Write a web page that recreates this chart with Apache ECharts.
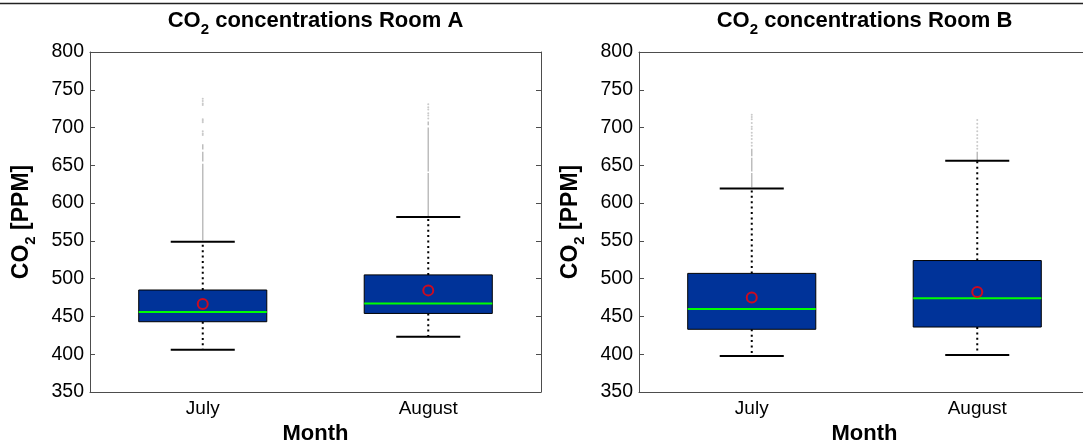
<!DOCTYPE html>
<html>
<head>
<meta charset="utf-8">
<title>CO2 concentrations</title>
<script src="https://cdn.jsdelivr.net/npm/echarts@6/dist/echarts.min.js"></script>
<style>
  html, body { margin: 0; padding: 0; background: #fff; }
  #chart { width: 1083px; height: 445px; }
</style>
</head>
<body>
<div id="chart"></div>
<script>
// Categories
const months = ['July', 'August'];

// Y tick range (ppm)
const yMin = 350;
const yMax = 800;
const yStep = 50;

// Room A box statistics per month
const roomALow    = [406, 423];
const roomAQ1     = [443, 454];
const roomAMedian = [456, 467];
const roomAQ3     = [485, 505];
const roomAHigh   = [549, 581.5];
const roomAMean   = [466.5, 484.5];

// Room B box statistics per month
const roomBLow    = [397.5, 399];
const roomBQ1     = [433, 436];
const roomBMedian = [460, 474];
const roomBQ3     = [507, 524];
const roomBHigh   = [619.5, 656];
const roomBMean   = [475, 482.5];

// Outliers: dense stretches (from, to) and isolated readings, per month
const roomAJulyOutlierRuns   = [[551, 652], [655, 668], [671, 678]];
const roomAJulyOutliers      = [690, 692, 695, 707, 709, 711, 730, 732, 735, 738];
const roomAAugustOutlierRuns = [[583, 640], [642, 700], [703, 708]];
const roomAAugustOutliers    = [712, 716, 719, 724, 727, 731];
const roomBJulyOutlierRuns   = [[621, 640], [642, 660], [662, 672]];
const roomBJulyOutliers      = [676, 680, 685, 689, 693, 698, 701, 706, 711, 714, 717];
const roomBAugustOutlierRuns = [[657, 668]];
const roomBAugustOutliers    = [672, 676, 681, 686, 690, 695, 700, 705, 710];

const FONT = "'Liberation Sans', Arial, Helvetica, sans-serif";
const AXIS_COLOR = '#4d4d4d';
const BOX_FILL = '#003399';
const MEDIAN_COLOR = '#00ff00';
const MEAN_COLOR = '#ff0000';
const OUTLIER_COLOR = '#bdbdbd';

function boxRows(low, q1, med, q3, high) {
  return months.map((m, i) => [i, low[i], q1[i], med[i], q3[i], high[i]]);
}
function runRows(runsPerMonth) {
  const rows = [];
  runsPerMonth.forEach((runs, i) => runs.forEach(r => rows.push([i, r[0], r[1]])));
  return rows;
}
function pointRows(pointsPerMonth) {
  const rows = [];
  pointsPerMonth.forEach((pts, i) => pts.forEach(v => rows.push([i, v])));
  return rows;
}

// Box, median, dashed whiskers and caps
function renderBox(params, api) {
  const idx = api.value(0);
  const x = api.coord([idx, api.value(1)])[0];
  const yLow = api.coord([idx, api.value(1)])[1];
  const yQ1 = api.coord([idx, api.value(2)])[1];
  const yMed = api.coord([idx, api.value(3)])[1];
  const yQ3 = api.coord([idx, api.value(4)])[1];
  const yHigh = api.coord([idx, api.value(5)])[1];
  const band = api.size([1, 0])[0];
  const boxW = band * 0.568;
  const capW = boxW / 2;
  const dash = { stroke: '#000', lineWidth: 2, lineDash: [2, 3.4] };
  const cap = { stroke: '#000', lineWidth: 2 };
  return {
    type: 'group',
    children: [
      { type: 'line', shape: { x1: x, y1: yQ3, x2: x, y2: yHigh }, style: dash },
      { type: 'line', shape: { x1: x, y1: yQ1, x2: x, y2: yLow }, style: dash },
      { type: 'line', shape: { x1: x - capW / 2, y1: yHigh, x2: x + capW / 2, y2: yHigh }, style: cap },
      { type: 'line', shape: { x1: x - capW / 2, y1: yLow, x2: x + capW / 2, y2: yLow }, style: cap },
      { type: 'rect', shape: { x: x - boxW / 2, y: yQ3, width: boxW, height: yQ1 - yQ3 },
        style: { fill: BOX_FILL, stroke: '#000', lineWidth: 1 } },
      { type: 'line', shape: { x1: x - boxW / 2, y1: yMed, x2: x + boxW / 2, y2: yMed },
        style: { stroke: MEDIAN_COLOR, lineWidth: 2 } }
    ]
  };
}

// Dense runs of outliers drawn as a thin grey stroke
function renderRun(params, api) {
  const idx = api.value(0);
  const p1 = api.coord([idx, api.value(1)]);
  const p2 = api.coord([idx, api.value(2)]);
  return { type: 'line', shape: { x1: p1[0], y1: p1[1], x2: p2[0], y2: p2[1] },
           style: { stroke: OUTLIER_COLOR, lineWidth: 1.5 } };
}

const titleRich = {
  m: { fontFamily: FONT, fontSize: 22, fontWeight: 'bold', color: '#000', lineHeight: 30 },
  s: { fontFamily: FONT, fontSize: 15, fontWeight: 'bold', color: '#000', padding: [17, 0, 0, 0] }
};
const nameRich = {
  m: { fontFamily: FONT, fontSize: 23, fontWeight: 'bold', color: '#000', lineHeight: 30 },
  s: { fontFamily: FONT, fontSize: 15, fontWeight: 'bold', color: '#000', padding: [17, 0, 0, 0] }
};

// Fixed plot frames; the right frame runs slightly past the canvas edge
const grids = [
  { left: 90, top: 52, width: 451, height: 340, outerBoundsMode: 'none', containLabel: false },
  { left: 639, top: 52, width: 451, height: 340, outerBoundsMode: 'none', containLabel: false }
];

const xAxes = [];
const yAxes = [];
grids.forEach((g, i) => {
  xAxes.push({
    type: 'category', gridIndex: i, data: months, position: 'bottom', boundaryGap: true,
    axisLine: { lineStyle: { color: AXIS_COLOR, width: 1 } },
    axisTick: { inside: true, alignWithLabel: true, length: 4, lineStyle: { color: AXIS_COLOR } },
    axisLabel: { fontFamily: FONT, fontSize: 19, color: '#000', margin: 7 },
    name: 'Month', nameLocation: 'middle', nameGap: 31,
    nameTextStyle: { fontFamily: FONT, fontSize: 22, fontWeight: 'bold', color: '#000' }
  });
  xAxes.push({
    type: 'category', gridIndex: i, data: months, position: 'top', boundaryGap: true,
    axisLine: { lineStyle: { color: AXIS_COLOR, width: 1 } },
    axisTick: { inside: true, alignWithLabel: true, length: 4, lineStyle: { color: AXIS_COLOR } },
    axisLabel: { show: false }
  });
  yAxes.push({
    type: 'value', gridIndex: i, min: yMin, max: yMax, interval: yStep, position: 'left',
    splitLine: { show: false },
    axisLine: { show: true, lineStyle: { color: AXIS_COLOR, width: 1 } },
    axisTick: { show: true, inside: true, length: 5, lineStyle: { color: AXIS_COLOR } },
    axisLabel: { fontFamily: FONT, fontSize: 19.5, color: '#000', margin: 6 },
    name: '{m|CO}{s|2}{m| [PPM]}', nameLocation: 'middle', nameGap: 52, nameRotate: 90,
    nameTextStyle: { rich: nameRich }
  });
  yAxes.push({
    type: 'value', gridIndex: i, min: yMin, max: yMax, interval: yStep, position: 'right',
    splitLine: { show: false },
    axisLine: { show: true, lineStyle: { color: AXIS_COLOR, width: 1 } },
    axisTick: { show: true, inside: true, length: 5, lineStyle: { color: AXIS_COLOR } },
    axisLabel: { show: false }
  });
});

const rooms = [
  { box: boxRows(roomALow, roomAQ1, roomAMedian, roomAQ3, roomAHigh), mean: roomAMean,
    runs: runRows([roomAJulyOutlierRuns, roomAAugustOutlierRuns]),
    points: pointRows([roomAJulyOutliers, roomAAugustOutliers]) },
  { box: boxRows(roomBLow, roomBQ1, roomBMedian, roomBQ3, roomBHigh), mean: roomBMean,
    runs: runRows([roomBJulyOutlierRuns, roomBAugustOutlierRuns]),
    points: pointRows([roomBJulyOutliers, roomBAugustOutliers]) }
];

const series = [];
rooms.forEach((r, i) => {
  const xi = i * 2, yi = i * 2;
  series.push({
    type: 'custom', xAxisIndex: xi, yAxisIndex: yi, renderItem: renderRun,
    data: r.runs, encode: { x: 0, y: [1, 2] }, z: 1, silent: true
  });
  series.push({
    type: 'scatter', xAxisIndex: xi, yAxisIndex: yi, data: r.points,
    symbol: 'circle', symbolSize: 2, itemStyle: { color: OUTLIER_COLOR }, z: 1, silent: true
  });
  series.push({
    type: 'custom', xAxisIndex: xi, yAxisIndex: yi, renderItem: renderBox,
    data: r.box, encode: { x: 0, y: [1, 2, 3, 4, 5] }, z: 2, silent: true
  });
  series.push({
    type: 'scatter', xAxisIndex: xi, yAxisIndex: yi,
    data: r.mean.map((v, k) => [k, v]),
    symbol: 'circle', symbolSize: 10,
    itemStyle: { color: 'rgba(0,0,0,0)', borderColor: MEAN_COLOR, borderWidth: 2 },
    z: 3, silent: true
  });
});

const chart = echarts.init(document.getElementById('chart'), null, { renderer: 'canvas' });
chart.setOption({
  animation: false,
  backgroundColor: '#fff',
  title: [
    { text: '{m|CO}{s|2}{m| concentrations Room A}', left: 315.5, top: 5, textAlign: 'center',
      padding: 0, textStyle: { rich: titleRich } },
    { text: '{m|CO}{s|2}{m| concentrations Room B}', left: 864.5, top: 5, textAlign: 'center',
      padding: 0, textStyle: { rich: titleRich } }
  ],
  graphic: [
    { type: 'line', shape: { x1: 0, y1: 3.5, x2: 1083, y2: 3.5 },
      style: { stroke: '#222', lineWidth: 1.5 }, silent: true }
  ],
  grid: grids,
  xAxis: xAxes,
  yAxis: yAxes,
  series: series
});
</script>
</body>
</html>
